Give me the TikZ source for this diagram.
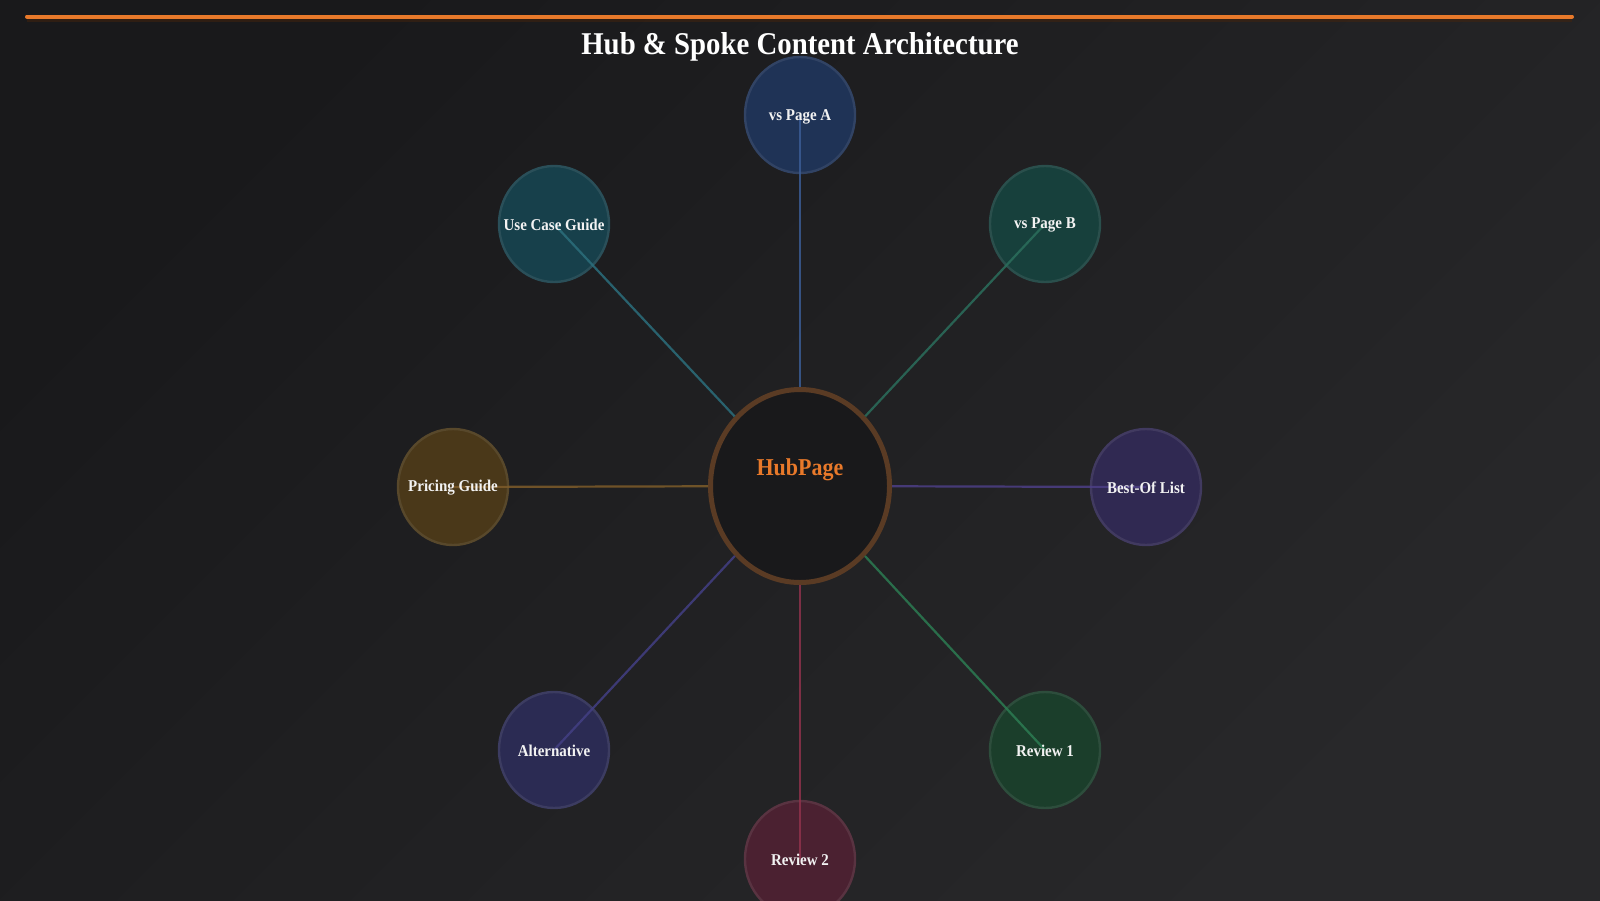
\documentclass[tikz,border=0pt]{standalone}
\usepackage{fontspec}
\setmainfont{Liberation Serif}
\usetikzlibrary{shapes.geometric}
\definecolor{bgA}{HTML}{19191B}
\definecolor{bgB}{HTML}{28282A}
\definecolor{orangeT}{HTML}{E8792A}
\definecolor{hubfill}{HTML}{19191B}
\definecolor{hubring}{HTML}{5A3B24}
\definecolor{txt}{HTML}{F2F2F2}
\definecolor{cA}{HTML}{1F3356}\definecolor{lA}{HTML}{3B5C94}
\definecolor{cU}{HTML}{17404B}\definecolor{lU}{HTML}{2B6E7C}
\definecolor{cB}{HTML}{17403C}\definecolor{lB}{HTML}{2B6E5C}
\definecolor{cL}{HTML}{302952}\definecolor{lL}{HTML}{4D3F86}
\definecolor{cR}{HTML}{1B3E2B}\definecolor{lR}{HTML}{2C7C52}
\definecolor{cT}{HTML}{4B2131}\definecolor{lT}{HTML}{8E324B}
\definecolor{cN}{HTML}{2B2B53}\definecolor{lN}{HTML}{433F84}
\definecolor{cP}{HTML}{4A3819}\definecolor{lP}{HTML}{7E5C2A}
\newcommand{\tallt}[1]{\scalebox{1}[1.1]{#1}}
\tikzset{
  spokebox/.style={ellipse, inner sep=0pt, minimum width=55pt, minimum height=58pt, fill=#1, draw=#1!92!white, line width=1.2pt},
  spokelabel/.style={text=txt, font=\bfseries\fontsize{7.5}{9}\selectfont, inner sep=0pt},
  spokeline/.style={draw=#1, line width=1.1pt, opacity=0.85},
  hubbox/.style={ellipse, inner sep=0pt, minimum width=89.5pt, minimum height=96.5pt, fill=hubfill, draw=hubring, line width=2.5pt},
}
\begin{document}
\begin{tikzpicture}[x=0.5pt,y=-0.5pt]
\useasboundingbox (0,0) rectangle (1600,900);
\shade[top color=bgA, bottom color=bgB, shading angle=45] (0,0) rectangle (1600,900);
% top accent line
\draw[line width=3pt, draw=black!70!orangeT, opacity=0.5] (27,19) -- (1572,19);
\draw[line width=2pt, draw=orangeT, line cap=round] (27,16.5) -- (1572,16.5);
\node[text=white, font=\bfseries\fontsize{14.4}{17}\selectfont, inner sep=0pt] (title) at (800,47) {\tallt{Hub \& Spoke Content Architecture}};
% spoke shapes
\node[spokebox=cA] (pa) at (800,115) {};
\node[spokebox=cU] (uc) at (554,224) {};
\node[spokebox=cB] (pb) at (1045,224) {};
\node[spokebox=cP] (pg) at (453,487) {};
\node[spokebox=cL] (bl) at (1146,487) {};
\node[spokebox=cN] (al) at (554,750) {};
\node[spokebox=cR] (r1) at (1045,750) {};
\node[spokebox=cT] (r2) at (800,859) {};
% hub
\node[hubbox] (hub) at (800,486) {};
% connectors
\draw[spokeline=lA] (hub) -- (pa.center);
\draw[spokeline=lU] (hub) -- (uc.center);
\draw[spokeline=lB] (hub) -- (pb.center);
\draw[spokeline=lP] (hub) -- (pg.center);
\draw[spokeline=lL] (hub) -- (bl.center);
\draw[spokeline=lN] (hub) -- (al.center);
\draw[spokeline=lR] (hub) -- (r1.center);
\draw[spokeline=lT] (hub) -- (r2.center);
% labels
\node[text=orangeT, font=\bfseries\fontsize{11}{13}\selectfont, inner sep=0pt] (hubl) at (800,470) {\tallt{HubPage}};
\node[spokelabel] (pal) at (800,117) {\tallt{vs Page A}};
\node[spokelabel] (ucl) at (554,225) {\tallt{Use Case Guide}};
\node[spokelabel] (pbl) at (1045,225) {\tallt{vs Page B}};
\node[spokelabel] (pgl) at (453,488) {\tallt{Pricing Guide}};
\node[spokelabel] (bll) at (1146,488) {\tallt{Best-Of List}};
\node[spokelabel] (all) at (554,751) {\tallt{Alternative}};
\node[spokelabel] (r1l) at (1045,751) {\tallt{Review 1}};
\node[spokelabel] (r2l) at (800,860) {\tallt{Review 2}};
\end{tikzpicture}
\end{document}
